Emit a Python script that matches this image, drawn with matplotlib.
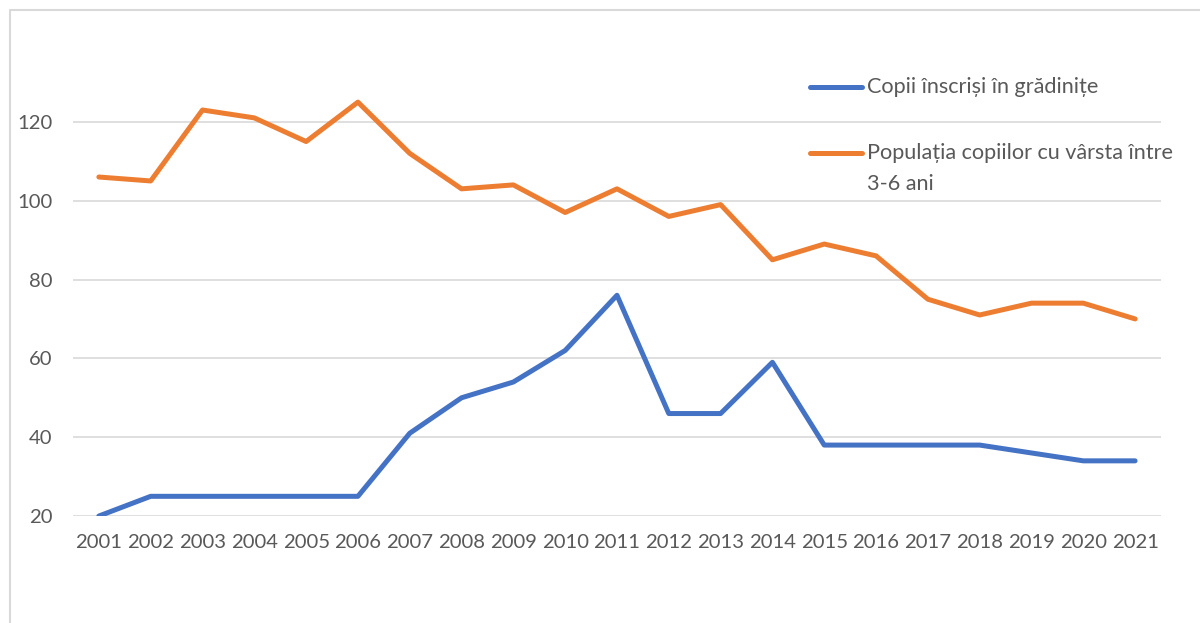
import matplotlib.pyplot as plt
from matplotlib.lines import Line2D

years = list(range(2001, 2022))
enrolled = [20, 25, 25, 25, 25, 25, 41, 50, 54, 62, 76, 46, 46, 59, 38, 38, 38, 38, 36, 34, 34]
population = [106, 105, 123, 121, 115, 125, 112, 103, 104, 97, 103, 96, 99, 85, 89, 86, 75, 71, 74, 74, 70]
labels = ["Copii înscriși în grădinițe", "Populația copiilor cu vârsta între\n3-6 ani"]
colors = ["#4472C4", "#ED7D31"]

plt.rcParams['font.family'] = ['Lato', 'DejaVu Sans']
grey = "#595959"

fig = plt.figure(figsize=(12, 6.23), dpi=100)
ax = fig.add_axes([0.0608, 0.1717, 0.9067, 0.7593])

ax.plot(years, enrolled, color=colors[0], linewidth=3.6, solid_capstyle='round', zorder=3)
ax.plot(years, population, color=colors[1], linewidth=3.6, solid_capstyle='round', zorder=3)

ax.set_xlim(2000.5, 2021.5)
ax.set_ylim(20, 140)
ax.set_yticks(range(20, 140, 20))
ax.set_xticks(years)
ax.grid(axis='y', color='#D9D9D9', linewidth=1.2)
ax.set_axisbelow(True)
for s in ax.spines.values():
    s.set_visible(False)
ax.tick_params(axis='both', length=0, labelsize=14.6, labelcolor=grey)
ax.tick_params(axis='y', pad=15)
ax.tick_params(axis='x', pad=13)

# legend drawn by hand so the handle sits on the first text line
leg_y = [1 - 87 / 623, 1 - 153 / 623]
for lab, col, yy in zip(labels, colors, leg_y):
    fig.add_artist(Line2D([810 / 1200, 862 / 1200], [yy, yy], color=col, linewidth=3.6,
                          solid_capstyle='round', transform=fig.transFigure))
    fig.text(867 / 1200, yy + 0.0165, lab, fontsize=15.6, color=grey, va='top', ha='left',
             linespacing=1.7)

# outer chart frame
fig.add_artist(Line2D([10 / 1200, 10 / 1200, 1.0], [0.0, 1 - 10 / 623, 1 - 10 / 623],
                      color='#D9D9D9', linewidth=1.5, transform=fig.transFigure))

fig.savefig("out.png", dpi=100)
